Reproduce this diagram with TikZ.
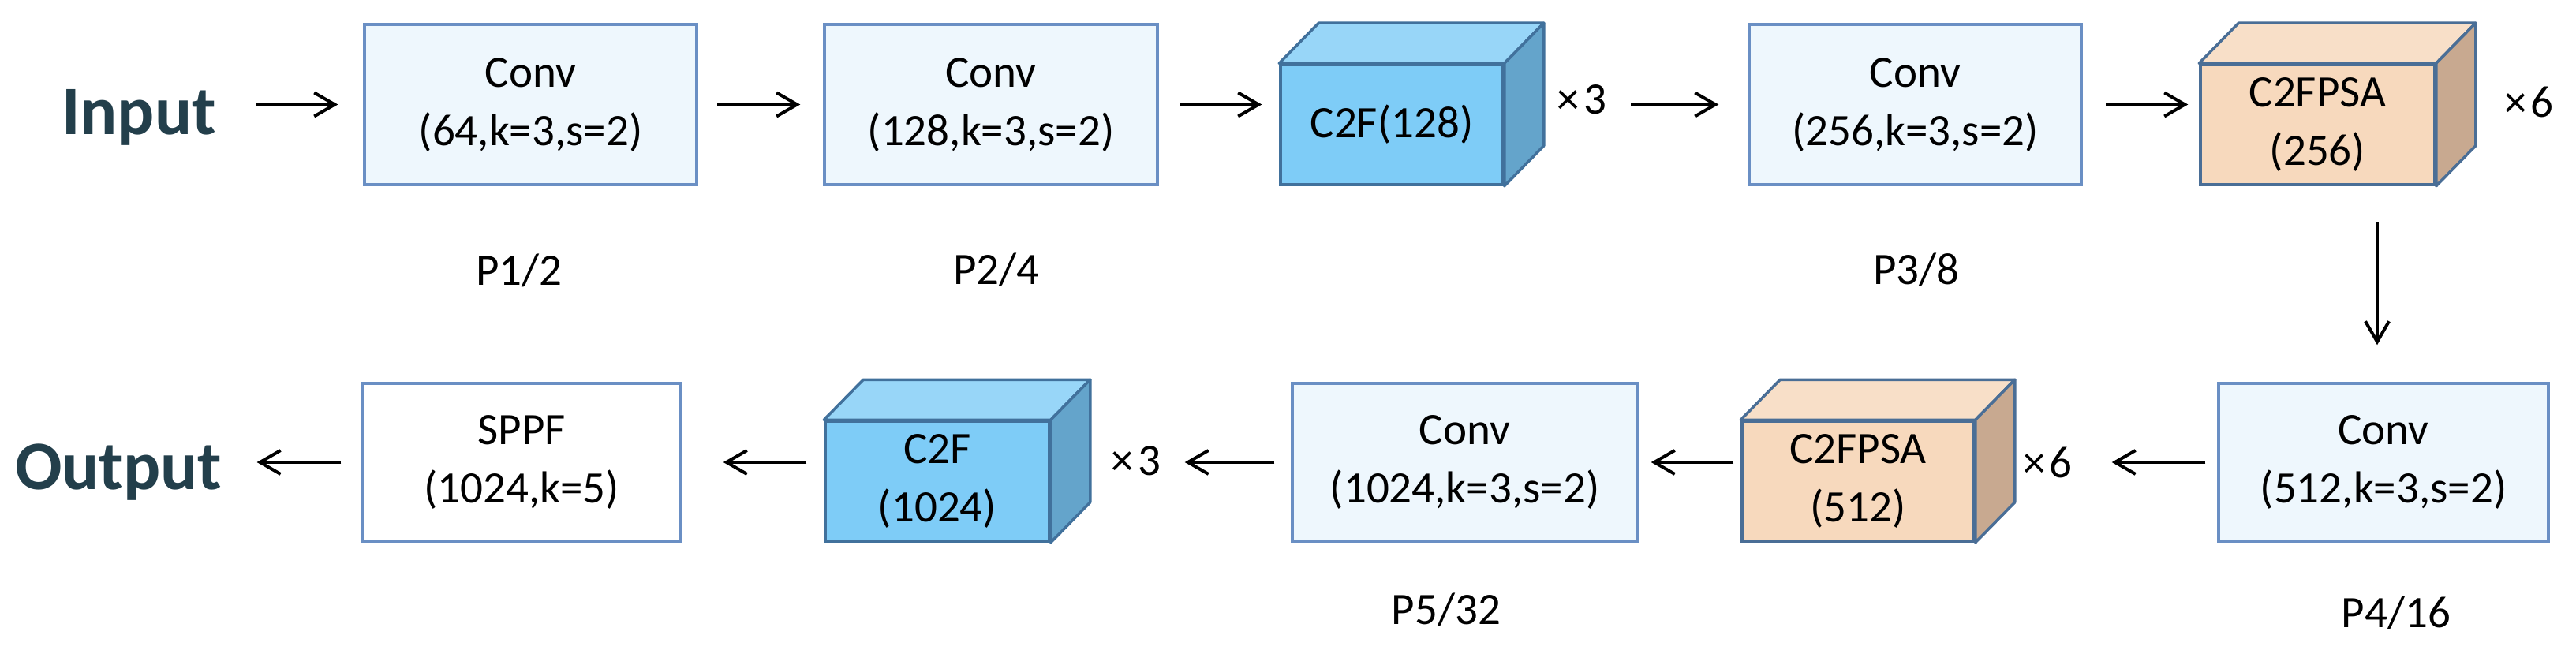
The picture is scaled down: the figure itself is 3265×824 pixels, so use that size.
\documentclass[tikz,border=0pt]{standalone}
\usepackage{fontspec}
\setmainfont{Carlito}
\usetikzlibrary{arrows.meta}
\definecolor{convf}{HTML}{EEF7FD}
\definecolor{convb}{HTML}{6A8FC4}
\definecolor{cubef}{HTML}{7ECCF7}
\definecolor{cubet}{HTML}{98D6F8}
\definecolor{cubes}{HTML}{64A4CB}
\definecolor{cubeb}{HTML}{41719C}
\definecolor{psaf}{HTML}{F7D9BD}
\definecolor{psat}{HTML}{F8DFC8}
\definecolor{psas}{HTML}{C8A990}
\definecolor{psab}{HTML}{4A6E96}
\definecolor{iocol}{HTML}{233F4B}
\newcommand\cuboid[4]{%
  \filldraw[fill=#2, draw=#4, line width=3.5pt, line join=round]
    (#1.north west) -- ++(50,-51) -- ([shift={(50,-51)}]#1.north east) -- (#1.north east) -- cycle;
  \filldraw[fill=#3, draw=#4, line width=3.5pt, line join=round]
    (#1.north east) -- ++(50,-51) -- ([shift={(50,-51)}]#1.south east) -- (#1.south east) -- cycle;
}
\begin{document}
\begin{tikzpicture}[x=1pt,y=-1pt,
  lbl/.style={font=\fontsize{57}{74}\selectfont, inner sep=0pt, align=center},
  conv/.style={lbl, draw=convb, fill=convf, line width=3.5pt, minimum height=203pt},
  convlow/.style={conv, minimum height=200pt},
  face/.style={lbl, line width=3.5pt, minimum height=152pt},
  c2fface/.style={face, fill=cubef, draw=cubeb},
  psaface/.style={face, fill=psaf, draw=psab},
  iotext/.style={font=\fontsize{88}{88}\selectfont\bfseries, text=iocol, inner sep=0pt},
  arr/.style={line width=4pt, -{Straight Barb[length=26pt,width=30pt,line width=4pt]}}]
\fill[white] (0,0) rectangle (3265,824);
\useasboundingbox (0,0) rectangle (3265,824);

% top row
\node[iotext, anchor=base west] (input) at (78,170) {Input};
\node[conv, minimum width=421pt] (conv1) at (672.5,132.5) {Conv\\(64,k=3,s=2)};
\node[conv, minimum width=422pt] (conv2) at (1256,132.5) {Conv\\(128,k=3,s=2)};
\node[c2fface, minimum width=282pt] (c2fa) at (1764,158) {C2F(128)};
\cuboid{c2fa}{cubet}{cubes}{cubeb}
\node[lbl, anchor=base west] (x3a) at (1973,145) {×\kern6pt 3};
\node[conv, minimum width=421pt] (conv3) at (2427.5,132.5) {Conv\\(256,k=3,s=2)};
\node[psaface, minimum width=297pt] (psaa) at (2937.5,158) {C2FPSA\\(256)};
\cuboid{psaa}{psat}{psas}{psab}
\node[lbl, anchor=base west] (x6a) at (3174,149) {×\kern5pt 6};

\node[lbl, anchor=base] (p1) at (658,361) {P1/2};
\node[lbl, anchor=base] (p2) at (1263,360) {P2/4};
\node[lbl, anchor=base] (p3) at (2429,360) {P3/8};

% bottom row
\node[convlow, minimum width=418pt] (conv4) at (3021,586) {Conv\\(512,k=3,s=2)};
\node[psaface, minimum width=294pt] (psab) at (2355,610) {C2FPSA\\(512)};
\cuboid{psab}{psat}{psas}{psab}
\node[lbl, anchor=base west] (x6b) at (2564,605) {×\kern5pt 6};
\node[convlow, minimum width=437pt] (conv5) at (1856.5,586) {Conv\\(1024,k=3,s=2)};
\node[c2fface, minimum width=284pt] (c2fb) at (1188,610) {C2F\\(1024)};
\cuboid{c2fb}{cubet}{cubes}{cubeb}
\node[lbl, anchor=base west] (x3b) at (1408,602) {×\kern6pt 3};
\node[convlow, fill=white, minimum width=404pt] (sppf) at (661,586) {SPPF\\(1024,k=5)};
\node[iotext, anchor=base west] (output) at (19,620) {Output};

\node[lbl, anchor=base] (p4) at (3037,795) {P4/16};
\node[lbl, anchor=base] (p5) at (1833,791) {P5/32};

% arrows
\draw[arr] ([xshift=51pt]input.east |- conv1.west) -- ([xshift=-32pt]conv1.west);
\draw[arr] ([xshift=24pt]conv1.east) -- ([xshift=-29pt]conv2.west);
\draw[arr] ([xshift=26pt]conv2.east) -- ([xshift=-22pt]c2fa.west |- conv2.east);
\draw[arr] ([xshift=30pt]x3a.east |- conv3.west) -- ([xshift=-37pt]conv3.west);
\draw[arr] ([xshift=29pt]conv3.east) -- ([xshift=-14pt]psaa.west |- conv3.east);
\draw[arr] ([xshift=-8pt,yshift=-46pt]psaa.south -| conv4.north) -- ([xshift=-8pt,yshift=47pt]conv4.north);
\draw[arr] ([xshift=-15pt]conv4.west) -- ([xshift=50pt]x6b.east |- conv4.west);
\draw[arr] ([xshift=-9pt]psab.west |- conv5.east) -- ([xshift=16pt]conv5.east);
\draw[arr] ([xshift=-21pt]conv5.west) -- ([xshift=30pt]x3b.east |- conv5.west);
\draw[arr] ([xshift=-22pt]c2fb.west |- sppf.east) -- ([xshift=52pt]sppf.east);
\draw[arr] ([xshift=-25pt]sppf.west) -- ([xshift=44pt]output.east |- sppf.west);
\end{tikzpicture}
\end{document}
